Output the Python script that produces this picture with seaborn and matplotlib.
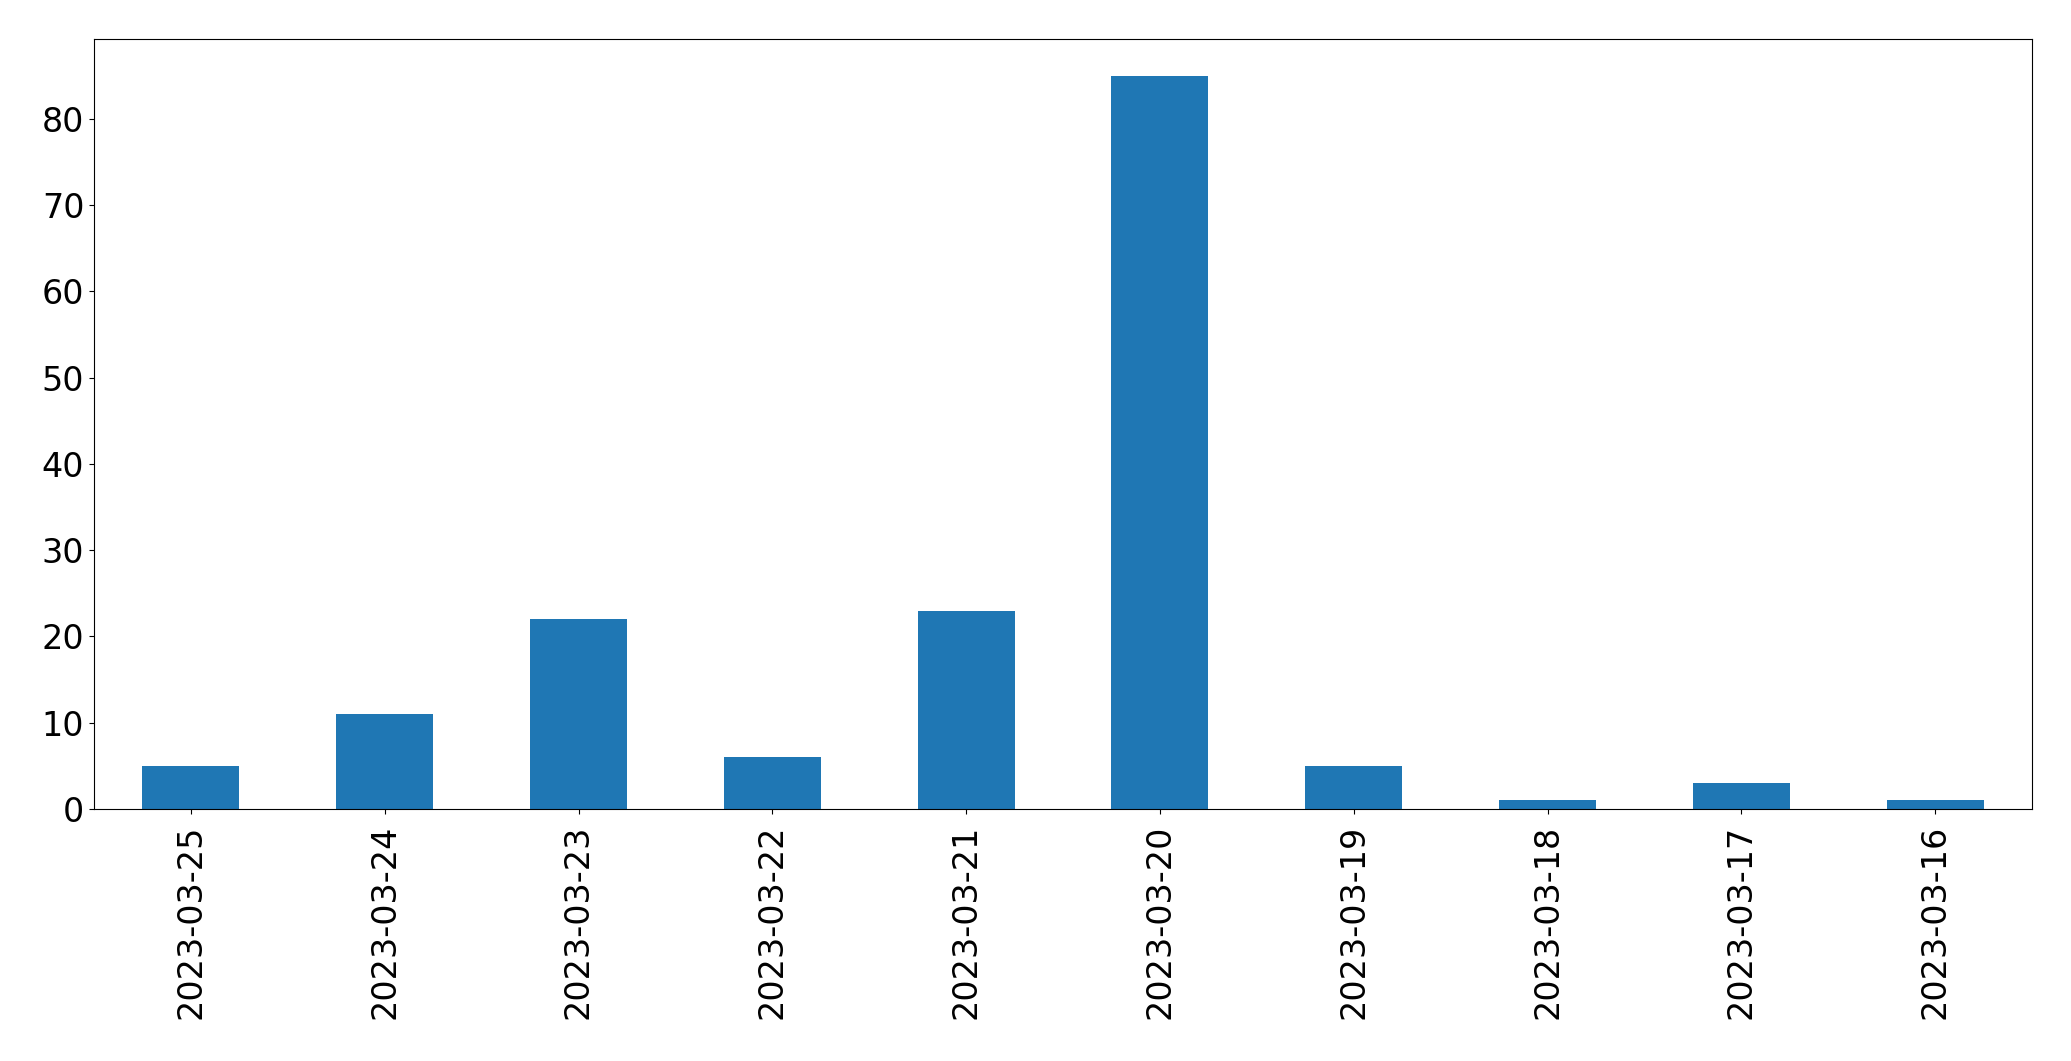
import matplotlib
matplotlib.use("Agg")
import matplotlib.pyplot as plt
import seaborn as sns
import pandas as pd

# daily counts, newest first
dates = ['2023-03-25', '2023-03-24', '2023-03-23', '2023-03-22', '2023-03-21',
         '2023-03-20', '2023-03-19', '2023-03-18', '2023-03-17', '2023-03-16']
counts = [5, 11, 22, 6, 23, 85, 5, 1, 3, 1]

df = pd.DataFrame({'date': dates, 'count': counts})

fig = plt.figure(figsize=(20.71, 10.61), dpi=100)
ax = fig.add_axes([94/2071, 1 - 809/1061, (2032-94)/2071, (809-39)/1061])

sns.barplot(data=df, x='date', y='count', order=dates, color='#1f77b4',
            saturation=1, width=0.5, ax=ax)

ax.set_xlim(-0.5, len(dates) - 0.5)
ax.set_ylim(0, max(counts) * 1.05)
ax.set_xlabel('')
ax.set_ylabel('')
ax.tick_params(axis='both', labelsize=24)
ax.tick_params(axis='x', pad=8)
plt.setp(ax.get_xticklabels(), rotation=90)

fig.savefig('out.png', dpi=100)
